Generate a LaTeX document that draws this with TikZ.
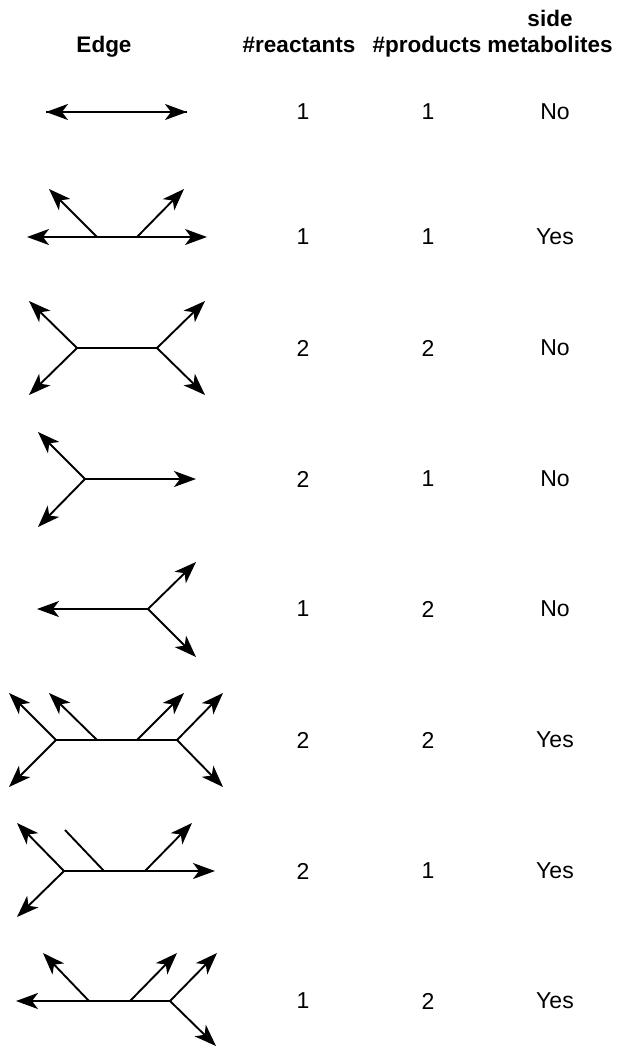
\documentclass[tikz,border=0pt]{standalone}
\usepackage{fontspec}
\setmainfont{Liberation Sans}
\usetikzlibrary{arrows.meta}
\begin{document}
\begin{tikzpicture}[x=1pt,y=-1pt,
  edgeline/.style={line width=1.9pt, line cap=butt},
  arr/.style={edgeline, -{Stealth[length=22pt,width=16pt,inset=6pt]}},
  hdr/.style={font=\fontsize{22.5}{27}\selectfont\bfseries, anchor=base, inner sep=0pt},
  val/.style={font=\fontsize{23}{27}\selectfont, anchor=center, inner sep=0pt}]
\useasboundingbox (0,0) rectangle (618,1046);
% headers
\node[hdr] (hedge) at (104,53) {Edge};
\node[hdr] (hreac) at (299,53) {\#reactants};
\node[hdr] (hprod) at (427,53) {\#products};
\node[hdr] (hside) at (550,27) {side};
\node[hdr] (hmeta) at (550,53) {metabolites};
% values
\foreach \y/\a/\b/\c [count=\i] in {112/1/1/No,237/1/1/Yes,348/2/2/No,479/2/1/No,609/1/2/No,740/2/2/Yes,871/2/1/Yes,1001/1/2/Yes}{
  \node[val] (r\i) at (303,\y) {\a};
  \node[val] (p\i) at (428,\y) {\b};
  \node[val] (s\i) at (555,\y) {\c};
}
% row 1
\coordinate (a1l) at (46,112); \coordinate (a1r) at (187,112);
\draw[arr] (a1r) -- (a1l);
\draw[arr] (a1l) -- (a1r);
% row 2
\coordinate (a2l) at (27,237); \coordinate (a2r) at (207,237);
\coordinate (a2s1) at (97,237); \coordinate (a2s2) at (137,237);
\coordinate (a2t1) at (49,189); \coordinate (a2t2) at (184,189);
\draw[arr] (a2s1) -- (a2l);
\draw[arr] (a2s2) -- (a2r);
\draw[edgeline] (a2s1) -- (a2s2);
\draw[arr] (a2s1) -- (a2t1);
\draw[arr] (a2s2) -- (a2t2);
% row 3
\coordinate (a3j1) at (77,348); \coordinate (a3j2) at (157,348);
\draw[edgeline] (a3j1) -- (a3j2);
\coordinate (a3t1) at (29,301); \coordinate (a3t2) at (29,395);
\coordinate (a3t3) at (205,301); \coordinate (a3t4) at (205,395);
\draw[arr] (a3j1) -- (a3t1);
\draw[arr] (a3j1) -- (a3t2);
\draw[arr] (a3j2) -- (a3t3);
\draw[arr] (a3j2) -- (a3t4);
% row 4
\coordinate (a4j) at (85,479); \coordinate (a4r) at (196,479);
\coordinate (a4t1) at (38,432); \coordinate (a4t2) at (38,527);
\draw[arr] (a4j) -- (a4r);
\draw[arr] (a4j) -- (a4t1);
\draw[arr] (a4j) -- (a4t2);
% row 5
\coordinate (a5j) at (148,609); \coordinate (a5l) at (37,609);
\coordinate (a5t1) at (196,562); \coordinate (a5t2) at (196,657);
\draw[arr] (a5j) -- (a5l);
\draw[arr] (a5j) -- (a5t1);
\draw[arr] (a5j) -- (a5t2);
% row 6
\coordinate (a6j1) at (56,740); \coordinate (a6j2) at (177,740);
\coordinate (a6s1) at (97,740); \coordinate (a6s2) at (137,740);
\draw[edgeline] (a6j1) -- (a6j2);
\coordinate (a6t1) at (9,693); \coordinate (a6t2) at (9,787);
\coordinate (a6t3) at (49,693); \coordinate (a6t4) at (184,693);
\coordinate (a6t5) at (223,693); \coordinate (a6t6) at (223,787);
\draw[arr] (a6j1) -- (a6t1);
\draw[arr] (a6j1) -- (a6t2);
\draw[arr] (a6s1) -- (a6t3);
\draw[arr] (a6s2) -- (a6t4);
\draw[arr] (a6j2) -- (a6t5);
\draw[arr] (a6j2) -- (a6t6);
% row 7
\coordinate (a7j) at (64,871); \coordinate (a7r) at (215,871);
\coordinate (a7s1) at (104,871); \coordinate (a7s2) at (145,871);
\coordinate (a7t1) at (17,823); \coordinate (a7t2) at (17,917);
\coordinate (a7e) at (65,830); \coordinate (a7t3) at (192,823);
\draw[arr] (a7j) -- (a7r);
\draw[arr] (a7j) -- (a7t1);
\draw[arr] (a7j) -- (a7t2);
\draw[edgeline] (a7s1) -- (a7e);
\draw[arr] (a7s2) -- (a7t3);
% row 8
\coordinate (a8j) at (170,1001); \coordinate (a8l) at (16,1001);
\coordinate (a8s1) at (89,1001); \coordinate (a8s2) at (130,1001);
\coordinate (a8t1) at (43,953); \coordinate (a8t2) at (177,953);
\coordinate (a8t3) at (217,953); \coordinate (a8t4) at (216,1046);
\draw[arr] (a8j) -- (a8l);
\draw[arr] (a8s1) -- (a8t1);
\draw[arr] (a8s2) -- (a8t2);
\draw[arr] (a8j) -- (a8t3);
\draw[arr] (a8j) -- (a8t4);
\end{tikzpicture}
\end{document}
